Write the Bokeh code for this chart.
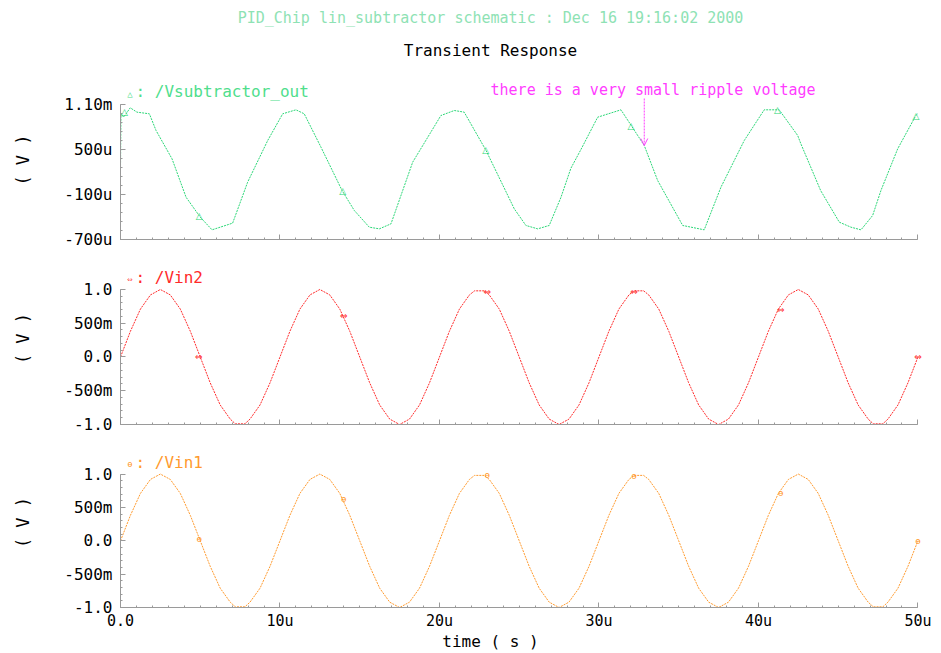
from bokeh.plotting import figure
from bokeh.layouts import column
from bokeh.models import Range1d, FixedTicker, Label, LabelSet, ColumnDataSource, Arrow, OpenHead
from bokeh.core.properties import value
from bokeh.embed import file_html
from bokeh.resources import INLINE

# ---------------- data (time in microseconds) ----------------
subtitle = "PID_Chip lin_subtractor schematic : Dec 16 19:16:02 2000"
title = "Transient Response"
x_label = "time ( s )"
y_label = "( V )"
x_ticks = [0, 10, 20, 30, 40, 50]
x_tick_labels = ["0.0", "10u", "20u", "30u", "40u", "50u"]

# /Vsubtractor_out (values in microvolts)
t_out = [0, 0.03, 0.2, 0.61, 1.03, 1.81, 2.23, 3.23, 4.11, 5.0, 5.74, 7.03, 7.97, 9.23,
         10.17, 11.0, 11.52, 12.57, 13.9, 14.66, 15.6, 16.23, 16.96, 18.32, 20.09, 20.93,
         21.55, 22.92, 24.69, 25.42, 26.16, 26.88, 27.62, 28.24, 28.87, 29.92, 31.38, 32.84,
         33.68, 35.25, 36.6, 37.65, 39.11, 40.36, 41.3, 42.46, 42.66, 43.9, 45.07, 45.8,
         46.43, 47.16, 47.68, 48.73, 49.87, 50.0]
v_out = [243, 976, 931, 1056, 998, 976, 753, 376, -136, -402, -571, -482, 64, 620,
         976, 1029, 976, 531, -50, -313, -536, -558, -491, 331, 953, 1020,
         998, 487, -291, -513, -558, -513, -136, 250, 500, 931, 1029, 553,
         87, -513, -571, -2, 620, 1029, 1029, 687, 576, -47, -469, -536,
         -571, -380, -47, 509, 953, 980]
out_ticks = [-700, -100, 500, 1100]
out_tick_labels = ["-700u", "-100u", "500u", "1.10m"]
out_mark_t = [0.25, 4.94, 13.93, 22.9, 32.0, 41.2, 49.87]
out_mark_v = [1000, -380, -47, 490, 820, 1029, 953]

# /Vin2 and /Vin1 (volts)
t_in = [0, 0.62, 1.25, 1.88, 2.5, 3.12, 3.75, 4.38, 5.0, 5.62, 6.25, 6.88, 7.2, 7.8, 8.12,
        8.75, 9.38, 10.0, 10.62, 11.25, 11.88, 12.5, 13.12, 13.75, 14.38, 15.0, 15.62,
        16.25, 16.88, 17.5, 18.12, 18.75, 19.38, 20.0, 20.62, 21.25, 21.88, 22.2, 22.8,
        23.12, 23.75, 24.38, 25.0, 25.62, 26.25, 26.88, 27.5, 28.12, 28.75, 29.38, 30.0,
        30.62, 31.25, 31.88, 32.2, 32.8, 33.12, 33.75, 34.38, 35.0, 35.62, 36.25, 36.88,
        37.5, 38.12, 38.75, 39.38, 40.0, 40.62, 41.25, 41.88, 42.5, 43.12, 43.75, 44.38,
        45.0, 45.62, 46.25, 46.88, 47.2, 47.8, 48.12, 48.75, 49.38, 50.0]
vin2 = [0, 0.38, 0.71, 0.92, 1.0, 0.92, 0.71, 0.38, 0, -0.38, -0.71, -0.92, -0.99, -0.99, -0.92,
        -0.71, -0.38, 0, 0.38, 0.71, 0.92, 1.0, 0.92, 0.71, 0.38, 0, -0.38,
        -0.71, -0.92, -1.0, -0.92, -0.71, -0.38, 0, 0.38, 0.71, 0.92, 0.98, 0.98,
        0.92, 0.71, 0.38, 0, -0.38, -0.71, -0.92, -1.0, -0.92, -0.71, -0.38, 0,
        0.38, 0.71, 0.92, 0.98, 0.98, 0.92, 0.71, 0.38, 0, -0.38, -0.71, -0.92,
        -1.0, -0.92, -0.71, -0.38, 0, 0.38, 0.71, 0.92, 1.0, 0.92, 0.71, 0.38,
        0, -0.38, -0.71, -0.92, -0.99, -0.99, -0.92, -0.71, -0.38, 0]
vin1 = [0, 0.38, 0.71, 0.92, 1.0, 0.92, 0.71, 0.38, 0, -0.38, -0.71, -0.92, -0.99, -0.99, -0.92,
        -0.71, -0.38, 0, 0.38, 0.71, 0.92, 1.0, 0.92, 0.71, 0.38, 0, -0.38,
        -0.71, -0.92, -1.0, -0.92, -0.71, -0.38, 0, 0.38, 0.71, 0.92, 0.98, 0.98,
        0.92, 0.71, 0.38, 0, -0.38, -0.71, -0.92, -1.0, -0.92, -0.71, -0.38, 0,
        0.38, 0.71, 0.92, 0.98, 0.98, 0.92, 0.71, 0.38, 0, -0.38, -0.71, -0.92,
        -1.0, -0.92, -0.71, -0.38, 0, 0.38, 0.71, 0.92, 1.0, 0.92, 0.71, 0.38,
        0, -0.38, -0.71, -0.92, -0.99, -0.99, -0.92, -0.71, -0.38, 0]
in_ticks = [-1.0, -0.5, 0.0, 0.5, 1.0]
in_tick_labels = ["-1.0", "-500m", "0.0", "500m", "1.0"]
vin2_mark_t = [4.9, 14.0, 23.0, 32.2, 41.4, 50.0]
vin2_mark_v = [0.0, 0.6, 0.96, 0.96, 0.7, 0.0]
vin1_mark_t = [4.94, 14.0, 23.0, 32.2, 41.4, 50.0]
vin1_mark_v = [0.03, 0.63, 0.98, 0.97, 0.72, 0.0]

ripple_note = "there is a very small ripple voltage"

# ---------------- styling ----------------
FONT = "DejaVu Sans Mono"
GREEN = "#2ad676"
GREEN_TXT = "#4fde8c"
RED = "#ff2a2a"
ORANGE = "#ff9a2e"
MAGENTA = "#ff3cff"
AXIS = "#9a9a9a"
X_END = 50.6   # a little room right of 50u so end markers are not cut


def base_fig(h, y0, y1, bottom, axes=True):
    kw = {} if axes else dict(x_axis_type=None, y_axis_type=None)
    p = figure(width=941, height=h, x_range=Range1d(0, X_END), y_range=Range1d(y0, y1),
               output_backend="svg", toolbar_location=None,
               min_border_left=120, min_border_right=14,
               min_border_top=0, min_border_bottom=bottom, **kw)
    p.outline_line_color = None
    p.grid.visible = False
    p.background_fill_color = "white"
    p.border_fill_color = "white"
    return p


def style_axes(p, ybounds, yticks, ylabels, yminor, show_x):
    xa = p.xaxis[0]
    ya = p.yaxis[0]
    xa.bounds = (0, 50)
    ya.bounds = ybounds
    xa.ticker = FixedTicker(ticks=x_ticks, minor_ticks=list(range(0, 51)))
    ya.ticker = FixedTicker(ticks=yticks, minor_ticks=yminor)
    ya.major_label_overrides = {k: v for k, v in zip(yticks, ylabels)}
    for ax in (xa, ya):
        ax.axis_line_color = AXIS
        ax.major_tick_line_color = AXIS
        ax.minor_tick_line_color = AXIS
        ax.major_tick_in = 5
        ax.major_tick_out = 0
        ax.minor_tick_in = 2
        ax.minor_tick_out = 0
        ax.major_label_text_font = FONT
        ax.major_label_text_font_size = "16px"
        ax.major_label_text_color = "black"
    ya.major_label_standoff = 8
    ya.axis_label = y_label
    ya.axis_label_text_font = FONT
    ya.axis_label_text_font_size = "17px"
    ya.axis_label_text_font_style = "normal"
    ya.axis_label_text_color = "black"
    ya.axis_label_standoff = 28
    if show_x:
        xa.major_label_overrides = {k: v for k, v in zip(x_ticks, x_tick_labels)}
        xa.major_label_text_font_size = "15px"
        xa.major_label_standoff = 4
    else:
        xa.major_label_overrides = {k: "" for k in x_ticks}
        xa.major_label_standoff = 0


def text_label(p, x, y, text, color, size, align="left"):
    p.add_layout(Label(x=x, y=y, text=text, text_color=color, text_font=FONT,
                       text_font_size=size, text_align=align, text_baseline="middle"))


def markers(p, ts, vs, glyph, color):
    src = ColumnDataSource(data=dict(x=ts, y=vs, t=[glyph] * len(ts)))
    p.add_layout(LabelSet(x="x", y="y", text="t", source=src, text_color=color,
                          text_font=value("DejaVu Sans"), text_font_size="9px",
                          text_align="center", text_baseline="middle"))


# ---------------- title strip (y in pixels from bottom of strip) ----------------
p0 = base_fig(80, 0, 80, 0, axes=False)
p0.text(x=[23.2], y=[63], text=[subtitle], text_font=value(FONT), text_font_size="15px",
        text_color="#8ee2b4", text_align="center", text_baseline="middle")
p0.text(x=[23.2], y=[30], text=[title], text_font=value(FONT), text_font_size="16px",
        text_color="black", text_align="center", text_baseline="middle")

# ---------------- panel 1: /Vsubtractor_out (uV) ----------------
p1 = base_fig(172, -700, 1420, 13)
style_axes(p1, (-700, 1100), out_ticks, out_tick_labels, list(range(-700, 1101, 120)), False)
p1.line(t_out, v_out, line_color=GREEN, line_width=1, line_dash="2 1")
markers(p1, out_mark_t, out_mark_v, "\u25b3", GREEN)
text_label(p1, 0.6, 1245, "\u25b3", GREEN_TXT, "9px", "center")
text_label(p1, 0.94, 1273, ": /Vsubtractor_out", GREEN_TXT, "16px")
text_label(p1, 23.2, 1292, ripple_note, MAGENTA, "15px")
p1.add_layout(Arrow(end=OpenHead(size=7, line_color=MAGENTA, line_width=1),
                    x_start=32.84, y_start=1180, x_end=32.84, y_end=553,
                    line_color=MAGENTA, line_width=1, line_dash="2 1"))

# ---------------- panel 2: /Vin2 ----------------
p2 = base_fig(185, -1.0, 1.548, 13)
style_axes(p2, (-1.0, 1.0), in_ticks, in_tick_labels, [i / 10 for i in range(-10, 11)], False)
p2.line(t_in, vin2, line_color=RED, line_width=1, line_dash="2 1")
markers(p2, vin2_mark_t, vin2_mark_v, "\u21d4", RED)
text_label(p2, 0.6, 1.15, "\u21d4", RED, "9px", "center")
text_label(p2, 0.94, 1.178, ": /Vin2", RED, "16px")

# ---------------- panel 3: /Vin1 ----------------
p3 = base_fig(195, -1.0, 1.548, 23)
style_axes(p3, (-1.0, 1.0), in_ticks, in_tick_labels, [i / 10 for i in range(-10, 11)], True)
p3.line(t_in, vin1, line_color=ORANGE, line_width=1, line_dash="2 1")
markers(p3, vin1_mark_t, vin1_mark_v, "\u0275", ORANGE)
text_label(p3, 0.6, 1.15, "\u0275", ORANGE, "9px", "center")
text_label(p3, 0.94, 1.178, ": /Vin1", ORANGE, "16px")

# ---------------- x-axis title strip ----------------
p4 = base_fig(21, 0, 21, 0, axes=False)
p4.text(x=[23.2], y=[12], text=[x_label], text_font=value(FONT), text_font_size="16px",
        text_color="black", text_align="center", text_baseline="middle")

layout = column(p0, p1, p2, p3, p4, spacing=0)
open("out.html", "w").write(file_html(layout, INLINE))
